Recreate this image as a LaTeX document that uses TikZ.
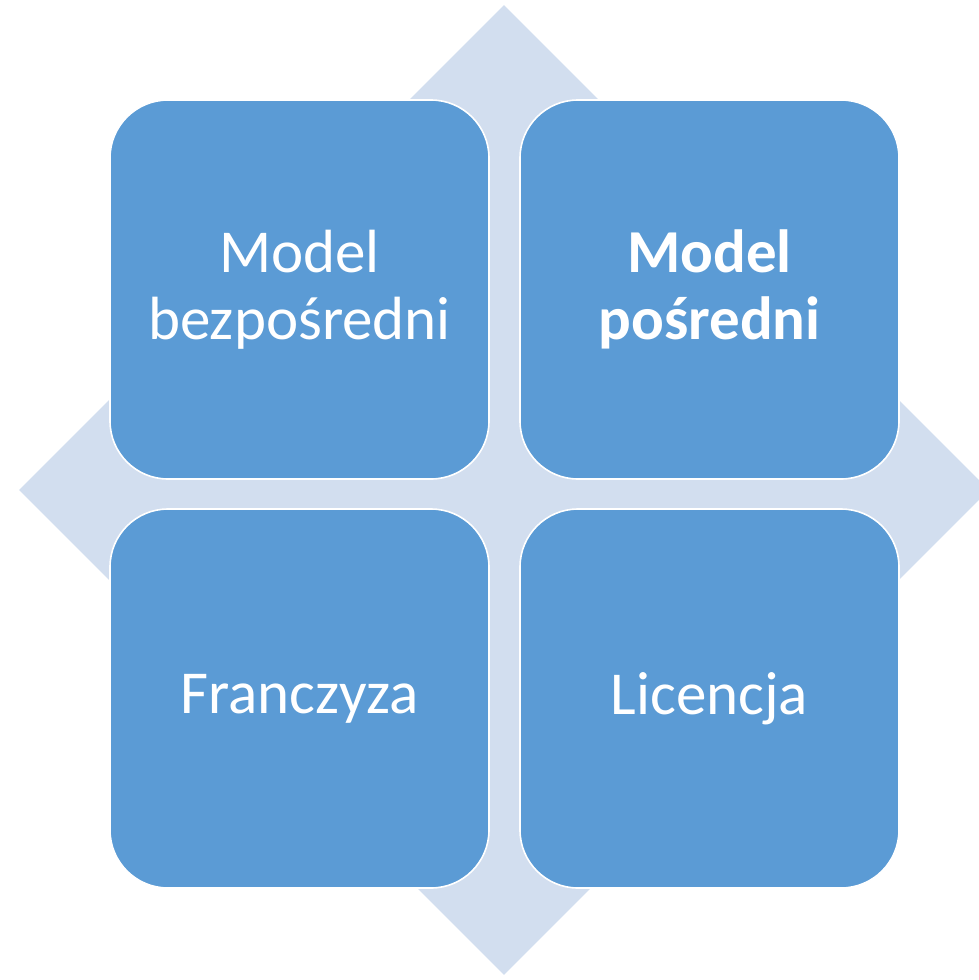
\documentclass[tikz,border=0pt]{standalone}
\usepackage{fontspec}
\setmainfont{Carlito}
\usetikzlibrary{shapes.geometric}
\definecolor{bgdia}{HTML}{D2DEEF}
\definecolor{boxblue}{HTML}{5B9BD5}
\tikzset{
  tile/.style={rectangle, rounded corners=58pt, fill=boxblue, draw=white, line width=1.6pt,
    minimum width=379pt, minimum height=379pt, inner sep=0pt, text=white, align=center,
    font=\fontsize{61}{67}\selectfont},
  bigdia/.style={diamond, aspect=1, fill=bgdia, draw=none, minimum width=970pt, minimum height=970pt, inner sep=0pt}
}
\begin{document}
\begin{tikzpicture}[x=1pt,y=-1pt]
\useasboundingbox (0,0) rectangle (979,980);
\clip (0,0) rectangle (979,980);
\node[bigdia] (dia) at (504,490) {};
\node[tile] (tl) at (299.5,289.5) {Model\\bezpośredni};
\node[tile] (tr) at (709.5,289.5) {\bfseries Model\\\bfseries pośredni};
\node[tile] (bl) at (299.5,698.5) {Franczyza};
\node[tile] (br) at (709.5,698.5) {Licencja};
\end{tikzpicture}
\end{document}
